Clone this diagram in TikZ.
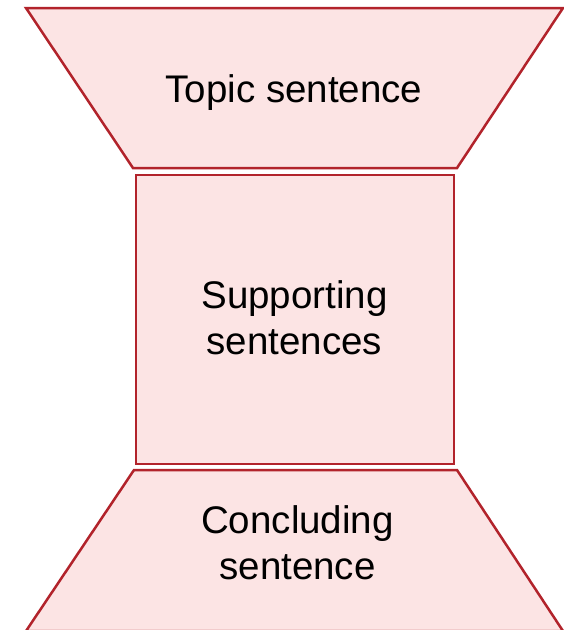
\documentclass[tikz,border=0pt]{standalone}
\usepackage{fontspec}
\setmainfont{Liberation Sans}
\definecolor{boxfill}{HTML}{FCE4E4}
\definecolor{boxline}{HTML}{B2232B}
\begin{document}
\begin{tikzpicture}[x=1pt,y=-1pt,
  part/.style={fill=boxfill,draw=boxline,line width=2.5pt,line join=miter},
  lbl/.style={font=\fontsize{38.5}{46}\selectfont,anchor=base,inner sep=0pt,text=black}]
\useasboundingbox (0,0) rectangle (564,630);
\draw[part] (26,8) -- (563,8) -- (457,168) -- (133,168) -- cycle;
\draw[part] (136,175) rectangle (454,464);
\draw[part] (134,470) -- (457,470) -- (563,631) -- (26,631) -- cycle;
\node[lbl] (topic) at (294,102) {Topic sentence};
\node[lbl] (support1) at (294.5,308) {Supporting};
\node[lbl] (support2) at (294.5,354) {sentences};
\node[lbl] (conclude1) at (297.5,533) {Concluding};
\node[lbl] (conclude2) at (297.5,579) {sentence};
\end{tikzpicture}
\end{document}
